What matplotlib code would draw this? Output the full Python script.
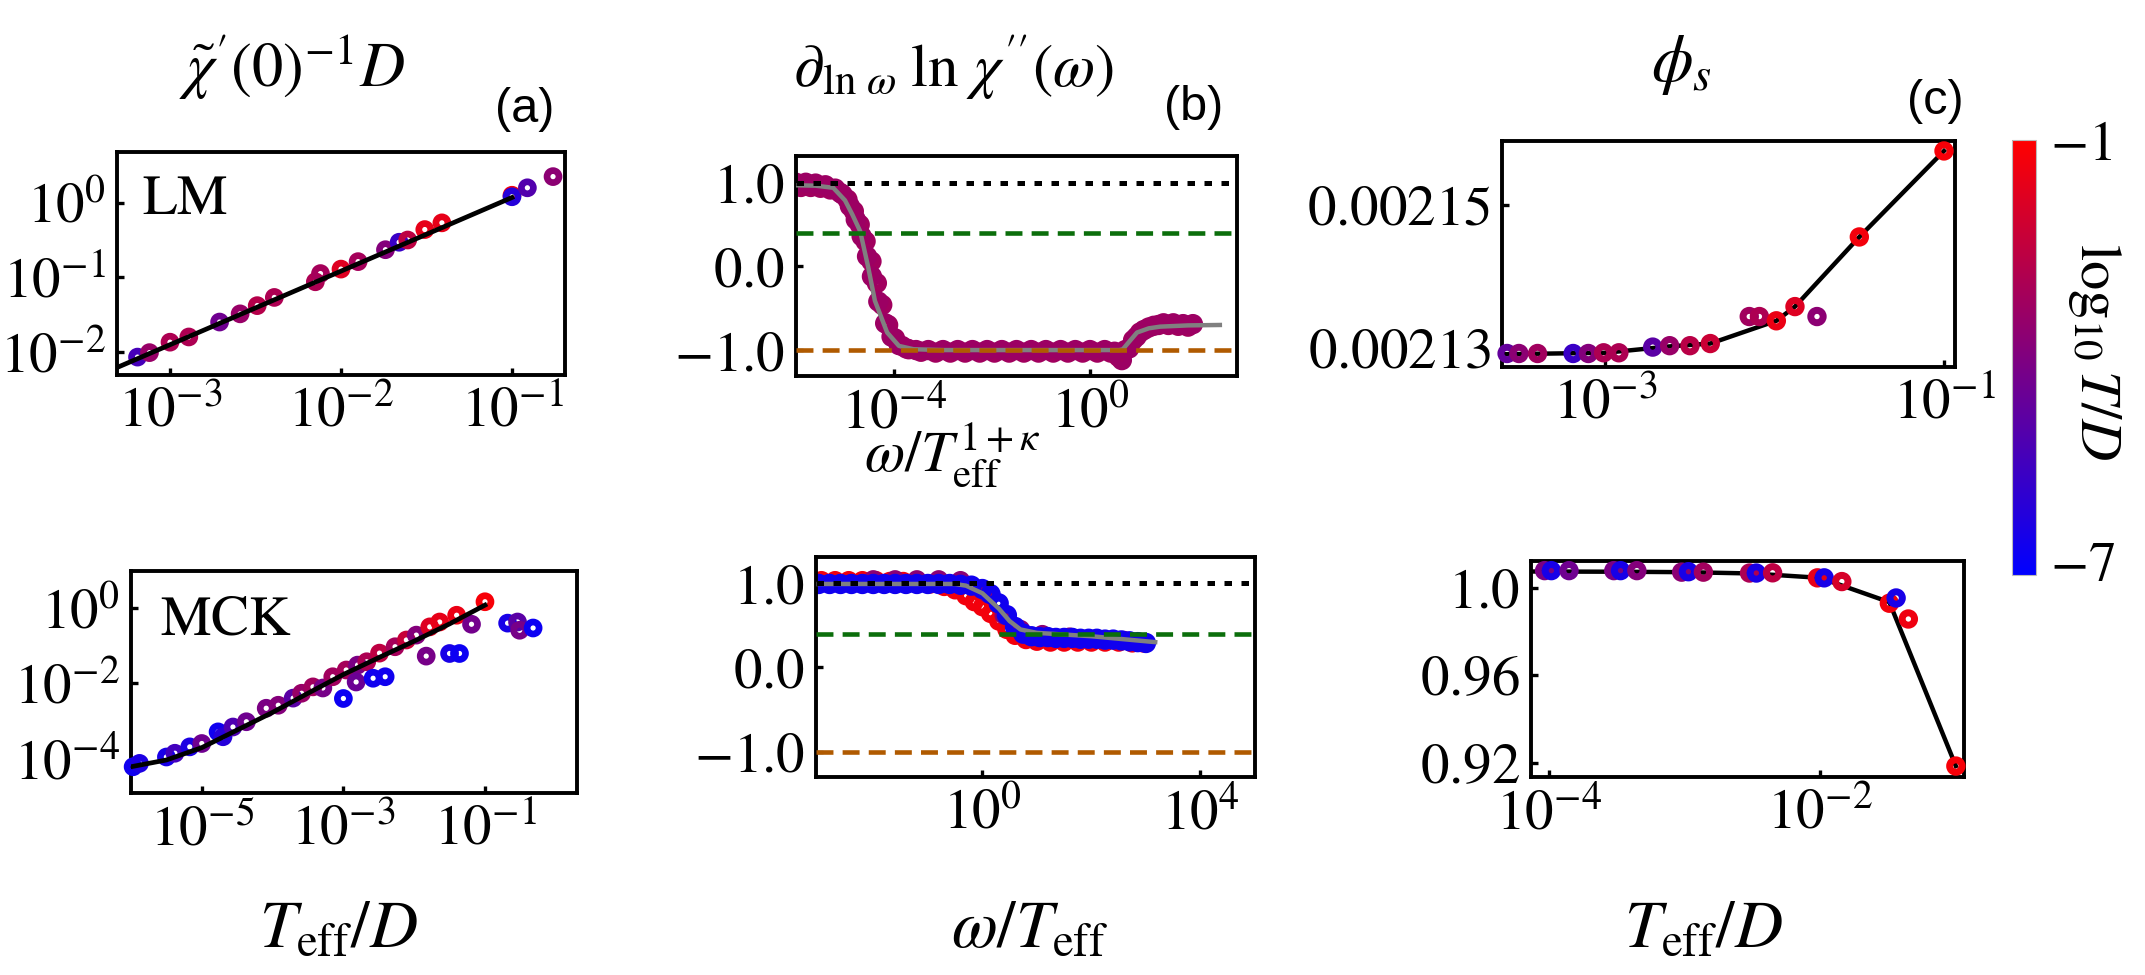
import numpy as np
import matplotlib
matplotlib.use('Agg')
import matplotlib.pyplot as plt
from matplotlib.colors import LinearSegmentedColormap, Normalize
from matplotlib.ticker import FixedLocator, FixedFormatter, NullLocator
import matplotlib.cm as mcm

plt.rcParams['mathtext.fontset'] = 'stix'
plt.rcParams['font.family'] = 'serif'
plt.rcParams['font.serif'] = ['Liberation Serif', 'DejaVu Serif']

# ---------------- data (log10 values where named *_lx / *_ly) ----------------
# (a) top: LM
lm_lx = [-3.19, -3.12, -3.0, -2.89, -2.71, -2.59, -2.49, -2.39, -2.15, -2.12, -2.0, -1.9,
         -1.74, -1.66, -1.61, -1.51, -1.41, -1.0, -1.0, -0.91, -0.76]
lm_ly = [-2.07, -2.01, -1.87, -1.80, -1.60, -1.49, -1.38, -1.27, -1.06, -0.95, -0.89, -0.79,
         -0.63, -0.53, -0.50, -0.36, -0.27, 0.10, 0.08, 0.20, 0.35]
lm_c = [-5.5, -3.5, -3.0, -3.0, -4.5, -3.5, -2.8, -3.0, -3.0, -3.2, -1.8, -3.2,
        -4.0, -5.8, -2.6, -1.6, -1.6, -1.3, -6.3, -5.2, -3.8]
lm_fit_lx = [-3.31, -1.0]
lm_fit_ly = [-2.21, 0.07]

# (a) bottom: MCK
mck_lx = [-5.97, -5.88, -5.50, -5.38, -5.17, -5.00, -4.77, -4.70, -4.56, -4.37, -4.09, -3.92,
          -3.71, -3.59, -3.43, -3.29, -3.15, -2.96, -2.80, -2.67, -2.49, -2.27, -2.11, -1.97,
          -1.78, -1.64, -1.40, -1.00,
          -3.00, -2.82, -2.58, -2.41, -1.83, -1.50, -1.36, -1.19, -0.68, -0.54, -0.51, -0.32]
mck_ly = [-4.23, -4.14, -3.97, -3.87, -3.70, -3.61, -3.30, -3.43, -3.17, -3.03, -2.67, -2.59,
          -2.40, -2.27, -2.10, -2.13, -1.83, -1.65, -1.52, -1.43, -1.20, -1.03, -0.85, -0.72,
          -0.50, -0.37, -0.19, 0.17,
          -2.41, -1.97, -1.87, -1.83, -1.28, -1.21, -1.21, -0.43, -0.40, -0.37, -0.59, -0.53]
mck_c = [-6.8, -6.5, -6.6, -5.6, -6.5, -4.5, -6.8, -6.3, -5.3, -4.5, -4.2, -4.0,
         -5.0, -3.5, -3.3, -4.3, -3.3, -3.2, -4.2, -3.0, -2.6, -3.2, -2.4, -4.0,
         -1.8, -1.6, -1.5, -1.2,
         -6.9, -4.6, -6.8, -6.8, -4.3, -6.6, -6.9, -4.4, -6.6, -5.0, -4.3, -6.9]
mck_fit_lx = [-6.0, -5.5, -5.0, -4.5, -4.0, -3.5, -3.0, -2.5, -2.0, -1.5, -1.0]
mck_fit_ly = [-4.23, -4.05, -3.72, -3.25, -2.78, -2.27, -1.77, -1.32, -0.88, -0.42, 0.08]

# (b) top: LM slope data (log10 omega / T^(1+kappa))
bt_fit_lx = [-6.0, -5.6, -5.24, -5.0, -4.85, -4.69, -4.53, -4.39, -4.14, -3.9, -3.6, -3.0,
             0.6, 0.67, 0.8, 0.96, 1.2, 1.43, 2.0, 2.65]
bt_fit_y = [0.97, 0.965, 0.94, 0.79, 0.62, 0.42, 0.0, -0.41, -0.79, -0.95, -0.99, -1.0,
            -1.0, -0.99, -0.90, -0.79, -0.74, -0.72, -0.705, -0.70]
bt_a_lx = [-6.0, -5.8, -5.6, -5.4, -5.2, -5.05, -4.9, -4.78, -4.66, -4.55, -4.45, -4.32,
           -4.18, -4.05, -3.9, -3.75, -3.55, -3.3, -3.0, -2.7, -2.4, -2.1, -1.8, -1.5,
           -1.2, -0.9, -0.6, -0.3, 0.0, 0.3, 0.5, 0.65, 0.8, 0.95, 1.1, 1.3, 1.5, 1.7, 1.9, 2.1]
bt_a_y = [1.0, 1.0, 0.99, 0.97, 0.93, 0.86, 0.72, 0.56, 0.36, 0.12, -0.12, -0.42,
          -0.68, -0.84, -0.94, -0.98, -1.0, -1.0, -1.0, -1.0, -1.0, -1.0, -1.0, -1.0,
          -1.0, -1.0, -1.0, -1.0, -1.0, -1.0, -1.02, -1.12, -0.98, -0.84, -0.76, -0.71,
          -0.68, -0.68, -0.69, -0.69]
bt_b_lx = [-5.9, -5.7, -5.5, -5.3, -5.1, -4.95, -4.82, -4.7, -4.58, -4.46, -4.35, -4.24,
           -4.12, -3.98, -3.84, -3.7, -3.45, -3.15, -2.85, -2.55, -2.25, -1.95, -1.65, -1.35,
           -1.05, -0.75, -0.45, -0.15, 0.15, 0.42, 0.58, 0.72, 0.88, 1.02, 1.2, 1.4, 1.6, 1.8, 2.0]
bt_b_y = [0.95, 0.95, 0.94, 0.92, 0.88, 0.80, 0.66, 0.50, 0.30, 0.06, -0.2, -0.46,
          -0.70, -0.86, -0.95, -0.99, -1.02, -1.03, -1.03, -1.03, -1.03, -1.03, -1.03, -1.03,
          -1.03, -1.03, -1.03, -1.03, -1.03, -1.03, -1.08, -1.0, -0.88, -0.79, -0.73, -0.70,
          -0.70, -0.71, -0.72]
bt_a_c = -3.4
bt_b_c = -3.3

# (b) bottom: MCK slope data (log10 omega / T_eff)
bb_fit_lx = [-3.05, -0.5, -0.3, 0.0, 0.3, 0.5, 0.7, 1.0, 1.5, 2.0, 2.5, 3.17]
bb_fit_y = [0.99, 0.99, 0.97, 0.88, 0.70, 0.55, 0.45, 0.41, 0.39, 0.37, 0.34, 0.30]
bb_red_lx = [-2.95, -2.7, -2.45, -2.2, -1.95, -1.7, -1.45, -1.2, -0.95, -0.7, -0.5, -0.3,
             -0.15, 0.0, 0.15, 0.3, 0.45, 0.6, 0.8, 1.0, 1.25, 1.5, 1.75, 2.0, 2.25, 2.5, 2.75, 2.95]
bb_red_y = [1.03, 1.03, 1.03, 1.03, 1.03, 1.02, 1.02, 1.01, 0.99, 0.96, 0.92, 0.85,
            0.78, 0.72, 0.64, 0.55, 0.45, 0.38, 0.33, 0.31, 0.30, 0.30, 0.30, 0.30, 0.30, 0.30, 0.29, 0.29]
bb_pur_lx = [-2.0, -1.6, -1.2, -0.8, -0.4, 0.1, 0.4, 0.7, 1.1, 1.6, 2.1, 2.6]
bb_pur_y = [1.04, 1.04, 1.04, 1.04, 1.03, 0.88, 0.62, 0.45, 0.39, 0.36, 0.34, 0.32]
bb_blu_lx = [-3.0, -2.8, -2.6, -2.4, -2.2, -2.0, -1.8, -1.6, -1.4, -1.2, -1.0, -0.8, -0.6, -0.4,
             -0.2, 0.0, 0.15, 0.3, 0.45, 0.6, 0.75, 0.9, 1.05, 1.2, 1.35, 1.5, 1.65, 1.8, 1.95,
             2.1, 2.25, 2.4, 2.55, 2.7, 2.85, 3.0]
bb_blu_y = [0.99, 0.99, 0.99, 0.99, 0.99, 0.99, 0.99, 0.99, 0.99, 0.99, 0.99, 0.99, 0.99, 0.98,
            0.97, 0.93, 0.87, 0.76, 0.62, 0.48, 0.40, 0.37, 0.36, 0.36, 0.35, 0.35, 0.35, 0.34,
            0.34, 0.34, 0.33, 0.33, 0.32, 0.31, 0.30, 0.29]
bb_red_c, bb_pur_c, bb_blu_c = -1.3, -3.8, -6.8
ref_levels = [1.0, 0.4, -1.0]

# (c) top: phi_s LM
ct_lx = [-3.58, -3.51, -3.40, -3.19, -3.10, -3.01, -2.92, -2.72, -2.62, -2.50, -2.38,
         -2.15, -2.09, -1.99, -1.88, -1.75, -1.50, -1.00]
ct_y = [0.0021291, 0.0021291, 0.0021291, 0.0021291, 0.0021291, 0.0021292, 0.0021292,
        0.0021300, 0.0021302, 0.0021302, 0.0021305, 0.0021343, 0.0021343, 0.0021337,
        0.0021357, 0.0021343, 0.0021455, 0.0021576]
ct_c = [-4.8, -3.8, -3.3, -5.8, -4.0, -3.0, -3.0, -5.0, -3.5, -2.7, -2.3,
        -3.3, -3.0, -1.5, -1.8, -3.8, -1.3, -1.2]
ct_fit_lx = [-3.61, -3.0, -2.62, -2.38, -1.99, -1.88, -1.50, -1.0]
ct_fit_y = [0.0021290, 0.0021292, 0.0021301, 0.0021305, 0.0021337, 0.0021357, 0.0021455, 0.0021576]

# (c) bottom: phi_s MCK
cb_lx = [-4.03, -3.98, -3.85, -3.52, -3.47, -3.35, -3.02, -2.97, -2.86, -2.52, -2.47, -2.35,
         -2.02, -1.97, -1.84, -1.49, -1.44, -1.35, -1.00]
cb_y = [1.0079, 1.0079, 1.0079, 1.0079, 1.0079, 1.0079, 1.0072, 1.0074, 1.0072, 1.0068,
        1.0068, 1.0069, 1.0046, 1.0046, 1.0029, 0.9930, 0.9954, 0.9858, 0.9186]
cb_c = [-4.2, -6.6, -4.5, -4.2, -6.6, -4.0, -3.8, -6.6, -3.3, -3.0, -6.6, -2.6,
        -1.6, -6.6, -2.0, -1.3, -6.6, -1.4, -1.2]
cb_fit_lx = [-4.13, -3.5, -3.0, -2.5, -2.0, -1.49, -1.0]
cb_fit_y = [1.0075, 1.0074, 1.0072, 1.0066, 1.0046, 0.9935, 0.9186]

# ---------------- figure ----------------
W, H = 2145, 975
fig = plt.figure(figsize=(W / 100, H / 100), dpi=100)

cmap = LinearSegmentedColormap.from_list('bluered', ['#0000ff', '#ff0000'])
norm = Normalize(vmin=-7.2, vmax=-1.0)

TICK_FS = 41


def add_ax(x0, y0, x1, y1):
    return fig.add_axes([x0 / W, 1 - y1 / H, (x1 - x0) / W, (y1 - y0) / H])


def style(ax):
    for s in ax.spines.values():
        s.set_linewidth(2.8)
        s.set_color('black')
    ax.tick_params(which='major', direction='in', length=5, width=2.4,
                   labelsize=TICK_FS, pad=8, top=False, right=False)
    ax.tick_params(which='minor', length=0)


def log_ticks(axis, exps):
    axis.set_major_locator(FixedLocator([10.0 ** e for e in exps]))
    axis.set_major_formatter(FixedFormatter([r'$10^{%d}$' % e for e in exps]))
    axis.set_minor_locator(NullLocator())


def lin_ticks(axis, vals, labels):
    axis.set_major_locator(FixedLocator(vals))
    axis.set_major_formatter(FixedFormatter([r'$%s$' % l for l in labels]))
    axis.set_minor_locator(NullLocator())


def circles(ax, x, y, c, s=75, lw=4.8, clip=False, z=3):
    cols = cmap(norm(np.atleast_1d(c) * np.ones(len(x))))
    ax.scatter(x, y, s=s, facecolors='none', edgecolors=cols, linewidths=lw,
               zorder=z, clip_on=clip)


def ptext(x, y, s, **kw):
    kw.setdefault('ha', 'center')
    kw.setdefault('va', 'center')
    fig.text(x / W, 1 - y / H, s, **kw)


p10 = lambda a: 10.0 ** np.asarray(a)

# (a) top
ax = add_ax(117, 152, 565, 375)
style(ax)
ax.set_xscale('log'); ax.set_yscale('log')
ax.plot(p10(lm_fit_lx), p10(lm_fit_ly), color='black', lw=3.4, zorder=4)
circles(ax, p10(lm_lx), p10(lm_ly), lm_c, z=3)
ax.set_xlim(10 ** -3.31, 10 ** -0.69)
ax.set_ylim(10 ** -2.31, 10 ** 0.68)
log_ticks(ax.xaxis, [-3, -2, -1])
log_ticks(ax.yaxis, [-2, -1, 0])
ax.text(0.055, 0.72, r'$\mathrm{LM}$', transform=ax.transAxes, fontsize=41,
        ha='left', va='baseline')

# (a) bottom
ax = add_ax(131, 571, 577, 793)
style(ax)
ax.set_xscale('log'); ax.set_yscale('log')
circles(ax, p10(mck_lx), p10(mck_ly), mck_c, z=3)
ax.plot(p10(mck_fit_lx), p10(mck_fit_ly), color='black', lw=3.4, zorder=4)
ax.set_xlim(10 ** -6.0, 10 ** 0.30)
ax.set_ylim(10 ** -4.93, 10 ** 0.99)
log_ticks(ax.xaxis, [-5, -3, -1])
log_ticks(ax.yaxis, [-4, -2, 0])
ax.text(0.065, 0.713, r'$\mathrm{MCK}$', transform=ax.transAxes, fontsize=41,
        ha='left', va='baseline')

ref_styles = [dict(color='black', lw=3.6, ls=(0, (1.5, 1.9))),
              dict(color='#0b6e0b', lw=3.3, ls=(0, (3.7, 2.0))),
              dict(color='#b05a00', lw=3.3, ls=(0, (3.7, 2.0)))]

# (b) top
ax = add_ax(796, 156, 1237, 376)
style(ax)
ax.set_xscale('log')
circles(ax, p10(bt_b_lx), bt_b_y, bt_b_c, s=75, lw=6.0, clip=True, z=2)
circles(ax, p10(bt_a_lx), bt_a_y, bt_a_c, s=75, lw=6.0, clip=True, z=2)
ax.plot(p10(bt_fit_lx), bt_fit_y, color='#808080', lw=3.2, zorder=4)
for lev, st in zip(ref_levels, ref_styles):
    ax.axhline(lev, zorder=5, **st)
ax.set_xlim(10 ** -6.0, 10 ** 3.0)
ax.set_ylim(-1.31, 1.32)
log_ticks(ax.xaxis, [-4, 0])
lin_ticks(ax.yaxis, [-1.0, 0.0, 1.0], ['-1.0', '0.0', '1.0'])

# (b) bottom
ax = add_ax(816, 557, 1255, 777)
style(ax)
ax.set_xscale('log')
circles(ax, p10(bb_red_lx), bb_red_y, bb_red_c, s=70, lw=5.5, clip=True, z=2)
circles(ax, p10(bb_pur_lx), bb_pur_y, bb_pur_c, s=70, lw=5.5, clip=True, z=2)
circles(ax, p10(bb_blu_lx), bb_blu_y, bb_blu_c, s=75, lw=6.0, clip=True, z=2)
ax.plot(p10(bb_fit_lx), bb_fit_y, color='#808080', lw=3.2, zorder=4)
for lev, st in zip(ref_levels, ref_styles):
    ax.axhline(lev, zorder=5, **st)
ax.set_xlim(10 ** -3.05, 10 ** 5.0)
ax.set_ylim(-1.30, 1.31)
log_ticks(ax.xaxis, [0, 4])
lin_ticks(ax.yaxis, [-1.0, 0.0, 1.0], ['-1.0', '0.0', '1.0'])

# (c) top
ax = add_ax(1502, 141, 1955, 367)
style(ax)
ax.set_xscale('log')
ax.plot(p10(ct_fit_lx), ct_fit_y, color='black', lw=3.2, zorder=2)
circles(ax, p10(ct_lx), ct_y, ct_c, s=80, lw=5.0, z=3)
ax.set_xlim(10 ** -3.61, 10 ** -0.935)
ax.set_ylim(0.0021272, 0.002159)
log_ticks(ax.xaxis, [-3, -1])
lin_ticks(ax.yaxis, [0.00213, 0.00215], ['0.00213', '0.00215'])

# (c) bottom
ax = add_ax(1531, 561, 1964, 777)
style(ax)
ax.set_xscale('log')
ax.plot(p10(cb_fit_lx), cb_fit_y, color='black', lw=3.2, zorder=2)
circles(ax, p10(cb_lx), cb_y, cb_c, s=80, lw=5.0, z=3)
ax.set_xlim(10 ** -4.13, 10 ** -0.94)
ax.set_ylim(0.9136, 1.0123)
log_ticks(ax.xaxis, [-4, -2])
lin_ticks(ax.yaxis, [0.92, 0.96, 1.0], ['0.92', '0.96', '1.0'])

# colorbar
cax = add_ax(2012, 140, 2036, 575)
sm = mcm.ScalarMappable(norm=norm, cmap=cmap)
cb = fig.colorbar(sm, cax=cax)
cb.set_ticks([-7, -1])
cb.set_ticklabels([r'$-7$', r'$-1$'])
cb.ax.tick_params(length=0, labelsize=40, pad=10)
cb.outline.set_linewidth(0.8)
cb.outline.set_edgecolor('#bbbbbb')
ptext(2094, 352, r'$\log_{10}T/D$', fontsize=42, rotation=270)

# titles, labels
ptext(292, 67, r"$\tilde{\chi}'(0)^{-1}D$", fontsize=45)
ptext(953, 68, r'$\partial_{\ln\,\omega}\;\ln\,\chi^{\prime\prime}(\omega)$', fontsize=44)
ptext(1681, 65, r'$\phi_s$', fontsize=48)
for lab, (x, y) in zip(['(a)', '(b)', '(c)'], [(525, 110), (1194, 108), (1935, 101)]):
    ptext(x, y, lab, fontsize=35, family='Liberation Sans')
ptext(952, 455, r'$\omega/T_{\rm eff}^{1+\kappa}$', fontsize=42)
ptext(338, 930, r'$T_{\rm eff}/D$', fontsize=48)
ptext(1030, 930, r'$\omega/T_{\rm eff}$', fontsize=48)
ptext(1703, 930, r'$T_{\rm eff}/D$', fontsize=48)

fig.savefig('out.png', dpi=100)
